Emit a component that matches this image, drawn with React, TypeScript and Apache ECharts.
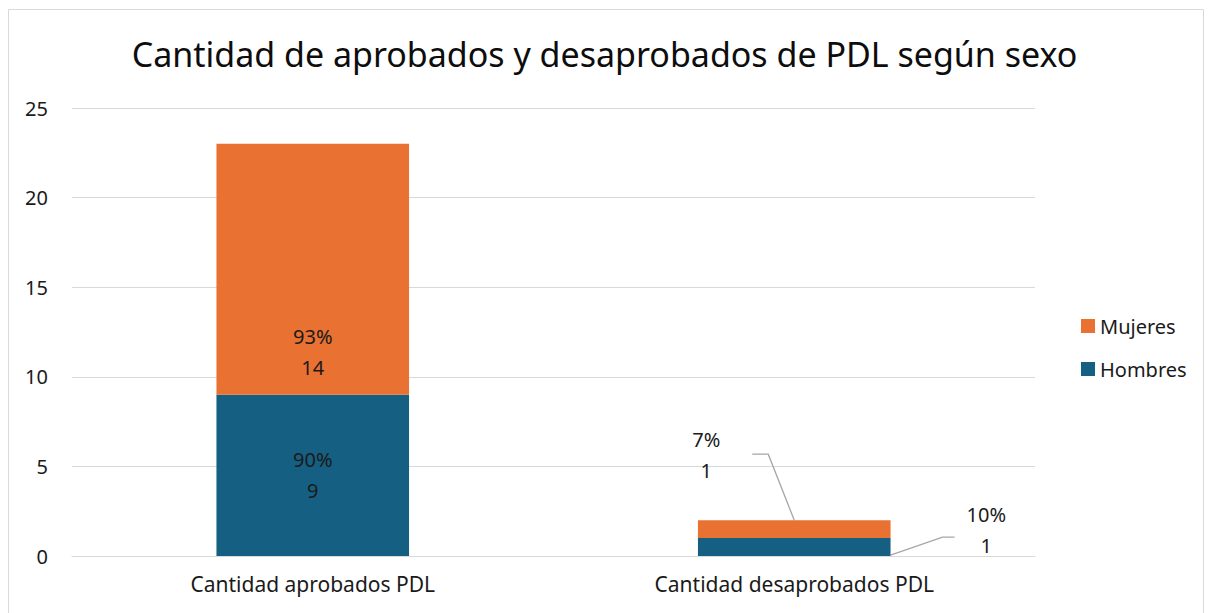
import React, { useEffect, useRef } from "react";
import * as echarts from "echarts";

const categories = ["Cantidad aprobados PDL", "Cantidad desaprobados PDL"];
const hombres = [9, 1];
const mujeres = [14, 1];
const hombresPct = ["90%", "10%"];
const mujeresPct = ["93%", "7%"];
const yTicks = { min: 0, max: 25, interval: 5 };

const FONT = "'Noto Sans', 'Open Sans', Arial, sans-serif";
const TXT = "#1a1a1a";
const FS = 20;

export default function App() {
  const ref = useRef<HTMLDivElement>(null);
  useEffect(() => {
    document.body.style.margin = "0";
    const chart = echarts.init(ref.current!, null, { renderer: "svg" });
    const labelBase = {
      show: true,
      fontSize: FS,
      lineHeight: 31,
      color: TXT,
      fontFamily: FONT,
      align: "center" as const,
    };
    chart.setOption({
      animation: false,
      textStyle: { fontFamily: FONT },
      title: {
        text: "Cantidad de aprobados y desaprobados de PDL según sexo",
        left: "center",
        top: 32,
        textStyle: { fontSize: 34, fontWeight: "normal", color: "#0d0d0d", fontFamily: FONT },
      },
      legend: {
        orient: "vertical",
        left: 1076,
        top: 311,
        itemWidth: 14,
        itemHeight: 14,
        itemGap: 23,
        icon: "rect",
        data: ["Mujeres", "Hombres"],
        textStyle: { fontSize: FS, lineHeight: 20, color: TXT, fontFamily: FONT },
      },
      grid: { left: 72, right: 174, top: 108, bottom: 57 },
      xAxis: {
        type: "category",
        data: categories,
        axisTick: { show: false },
        axisLine: { lineStyle: { color: "#d9d9d9" } },
        axisLabel: { fontSize: 21, color: TXT, margin: 17 },
      },
      yAxis: {
        type: "value",
        ...yTicks,
        axisLabel: { fontSize: FS, color: TXT, margin: 24 },
        splitLine: { lineStyle: { color: "#d9d9d9" } },
        axisLine: { show: false },
      },
      series: [
        {
          name: "Hombres",
          type: "bar",
          stack: "s",
          barWidth: "40%",
          itemStyle: { color: "#156082" },
          data: hombres.map((v, i) => ({
            value: v,
            label:
              i === 0
                ? { ...labelBase, position: "inside", formatter: `${hombresPct[i]}\n${v}` }
                : { ...labelBase, position: "inside", offset: [192, -17], formatter: `${hombresPct[i]}\n${v}` },
          })),
        },
        {
          name: "Mujeres",
          type: "bar",
          stack: "s",
          barWidth: "40%",
          itemStyle: { color: "#E97132" },
          data: mujeres.map((v, i) => ({
            value: v,
            label:
              i === 0
                ? { ...labelBase, position: "inside", offset: [0, 83], formatter: `${mujeresPct[i]}\n${v}` }
                : { ...labelBase, position: "inside", offset: [-88, -74], formatter: `${mujeresPct[i]}\n${v}` },
          })),
        },
      ],
    });

    // leader lines for second category, computed through the axes
    const top2 = chart.convertToPixel({ gridIndex: 0 }, [1, hombres[1] + mujeres[1]]);
    const midH = chart.convertToPixel({ gridIndex: 0 }, [1, hombres[1] / 2]);
    const c0 = chart.convertToPixel({ gridIndex: 0 }, [0, 0]);
    const bandW = top2[0] - c0[0];
    const halfBar = (bandW * 0.4) / 2;
    const gray = { stroke: "#a6a6a6", lineWidth: 1.3, fill: "none" };
    chart.setOption({
      graphic: [
        {
          type: "rect",
          shape: { x: 8.5, y: 9.5, width: 1195, height: 640 },
          style: { fill: "none", stroke: "#d9d9d9", lineWidth: 1 },
          silent: true,
        },
        {
          type: "polyline",
          shape: {
            points: [
              [top2[0], top2[1]],
              [top2[0] - 26, top2[1] - 66],
              [top2[0] - 42, top2[1] - 66],
            ],
          },
          style: gray,
        },
        {
          type: "polyline",
          shape: {
            points: [
              [midH[0] + halfBar, midH[1] + 8],
              [midH[0] + halfBar + 52, midH[1] - 10],
              [midH[0] + halfBar + 64, midH[1] - 10],
            ],
          },
          style: gray,
        },
      ],
    });
    return () => chart.dispose();
  }, []);
  return <div ref={ref} style={{ width: 1209, height: 613 }} />;
}
